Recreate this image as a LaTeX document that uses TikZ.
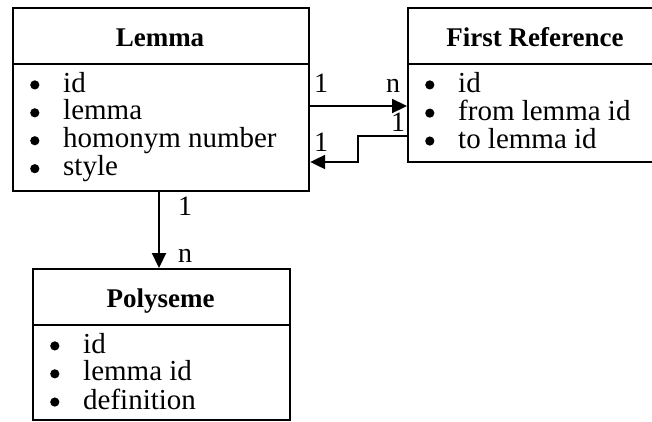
\documentclass[tikz,border=0pt]{standalone}
\usepackage{fontspec}
\setmainfont{Liberation Serif}
\usetikzlibrary{arrows.meta}
\newcommand{\bul}{\raisebox{2.5pt}{\tikz\fill (0pt,0pt) circle (4.6pt);}}
\begin{document}
\begin{tikzpicture}[x=1pt,y=-1pt,
  box/.style={draw, line width=2.2pt, inner sep=0pt, anchor=north west},
  head/.style={font=\fontsize{27}{27}\selectfont\bfseries, inner sep=0pt, anchor=base},
  items/.style={font=\fontsize{29}{26}\selectfont, inner sep=0pt, anchor=base west},
  card/.style={font=\fontsize{28}{26}\selectfont, inner sep=0pt, anchor=base},
  conn/.style={line width=2.2pt, -{Triangle[length=15pt,width=14pt]}}]
\useasboundingbox (0,0) rectangle (652,421);
\clip (0,0) rectangle (652,421);
% Lemma
\node[box, minimum width=296pt, minimum height=56pt] (lemmaH) at (12,7) {};
\node[box, minimum width=296pt, minimum height=127pt] (lemmaB) at (12,63) {};
\node[head] (lemmaT) at (160,46) {Lemma};
\node[items] (lemmaI) at (30,92) {\begin{tabular}[t]{@{}p{33pt}@{}l@{}}\bul & id\\ \bul & lemma\\ \bul & homonym number\\ \bul & style\end{tabular}};
% First Reference
\node[box, minimum width=256pt, minimum height=56pt] (frH) at (407,7) {};
\node[box, minimum width=256pt, minimum height=98pt] (frB) at (407,63) {};
\node[head] (frT) at (535,46) {First Reference};
\node[items] (frI) at (425,92) {\begin{tabular}[t]{@{}p{33pt}@{}l@{}}\bul & id\\ \bul & from lemma id\\ \bul & to lemma id\end{tabular}};
% Polyseme
\node[box, minimum width=257pt, minimum height=56pt] (polyH) at (32,268) {};
\node[box, minimum width=257pt, minimum height=95pt] (polyB) at (32,324) {};
\node[head] (polyT) at (160.5,307) {Polyseme};
\node[items] (polyI) at (50,353) {\begin{tabular}[t]{@{}p{33pt}@{}l@{}}\bul & id\\ \bul & lemma id\\ \bul & definition\end{tabular}};
% connectors
\coordinate (r1) at (0,106);
\coordinate (r2) at (0,136);
\coordinate (r3) at (0,162);
\coordinate (k1) at (358,136);
\coordinate (k2) at (358,162);
\coordinate (v1) at (159,0);
\draw[conn] (lemmaB.east |- r1) -- (frB.west |- r1);
\draw[conn] (frB.west |- r2) -- (k1) -- (k2) -- (lemmaB.east |- r3);
\draw[conn] (lemmaB.south -| v1) -- (polyH.north -| v1);
% cardinalities
\node[card] (c1) at (321,92) {1};
\node[card] (c2) at (393,92) {n};
\node[card] (c3) at (398,131) {1};
\node[card] (c4) at (321,151) {1};
\node[card] (c5) at (185,215) {1};
\node[card] (c6) at (185,262) {n};
\end{tikzpicture}
\end{document}
